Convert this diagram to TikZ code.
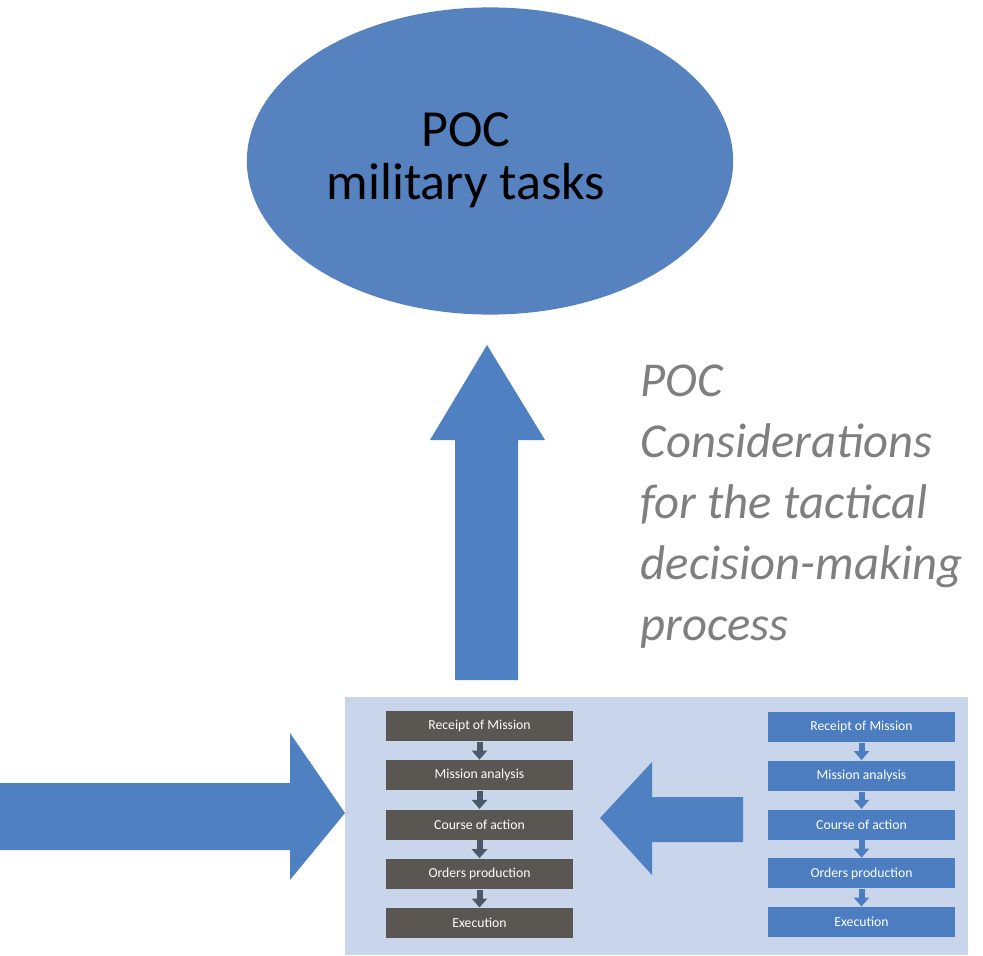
\documentclass[tikz,border=0pt]{standalone}
\usepackage{fontspec}
\setmainfont{Carlito}
\usetikzlibrary{shapes.geometric,arrows.meta}
\definecolor{pocblue}{HTML}{5682C0}
\definecolor{arrowblue}{HTML}{4F81C2}
\definecolor{panelblue}{HTML}{C8D5EA}
\definecolor{stepgray}{HTML}{5A5652}
\definecolor{stepblue}{HTML}{4C7DC1}
\definecolor{linkslate}{HTML}{4B5868}
\definecolor{notegray}{HTML}{7F7F7F}
\tikzset{
  stepbox/.style={minimum width=1.87cm, minimum height=0.30cm, inner sep=0pt,
    text=white, font=\fontsize{3.9}{4.5}\selectfont},
  steplink/.style={line width=0.06cm, draw=#1,
    -{Triangle[width=0.15cm,length=0.09cm]}},
  blockarrow/.style={fill=arrowblue, draw=none}
}
\begin{document}
\begin{tikzpicture}[x=0.01cm, y=-0.01cm]
	\useasboundingbox (0,0) rectangle (983,955);
	% goal
	\node[ellipse, fill=pocblue, minimum width=4.86cm, minimum height=3.07cm, inner sep=0pt] (tasks) at (490,161) {};
	\node[align=center, inner sep=0pt, font=\fontsize{14.8}{15}\selectfont] (taskstext) at (466,160) {POC\\military tasks};
	% note beside the upward arrow
	\node[anchor=north west, align=left, inner sep=0pt, text=notegray,
		font=\fontsize{13.85}{17.35}\selectfont\itshape] (note) at (640,364)
		{POC\\Considerations\\for the tactical\\decision-making\\process};
	% process panel
	\node[fill=panelblue, minimum width=6.23cm, minimum height=2.58cm, inner sep=0pt] (panel) at (656.5,826) {};
	\foreach \t [count=\i] in {Receipt of Mission, Mission analysis, Course of action, Orders production, Execution} {
		\node[stepbox, fill=stepgray] (l\i) at (479.5,{726+49.3*(\i-1)}) {\t};
		\node[stepbox, fill=stepblue] (r\i) at (861.5,{727+48.8*(\i-1)}) {\t};
	}
	\foreach \i/\j in {1/2, 2/3, 3/4, 4/5} {
		\draw[steplink=linkslate] (l\i.south) -- (l\j.north);
		\draw[steplink=stepblue] (r\i.south) -- (r\j.north);
	}
	% block arrows
	\fill[blockarrow] (455,680) -- (455,440) -- (430,440) -- (487,345) -- (545,440) -- (518,440) -- (518,680) -- cycle;
	\fill[blockarrow] (0,783) -- (290,783) -- (290,733) -- (345,813) -- (290,880) -- (290,850) -- (0,850) -- cycle;
	\fill[blockarrow] (743,797) -- (652,797) -- (652,762) -- (600,818) -- (652,875) -- (652,842) -- (743,842) -- cycle;
\end{tikzpicture}
\end{document}
